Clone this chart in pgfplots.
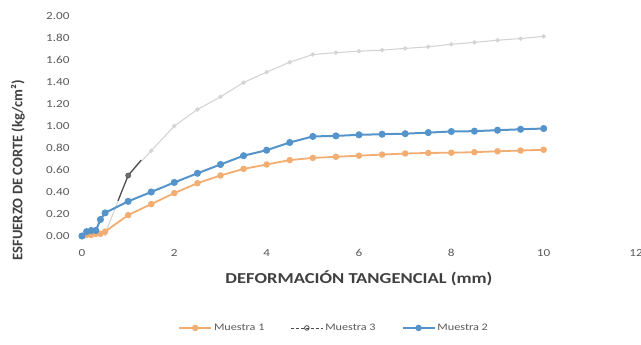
\documentclass[border=0pt]{standalone}
\usepackage{pgfplots}
\pgfplotsset{compat=1.18}
\usepackage{fontspec}
\setmainfont{Carlito}[FakeStretch=1.22]
\newfontfamily\ylabfont{Carlito}
\definecolor{orangeS}{HTML}{F2AE72}
\definecolor{blueS}{HTML}{5494CB}
\definecolor{grayS}{HTML}{D4D4D4}
\definecolor{darkS}{HTML}{4A4A4A}
\definecolor{tickgray}{HTML}{595959}
\definecolor{titlegray}{HTML}{404040}
\begin{document}
\begin{tikzpicture}
\useasboundingbox (-82pt,-109pt) rectangle (559pt,236pt);
\begin{axis}[
  at={(0,0)}, anchor=south west,
  scale only axis, width=554pt, height=220pt,
  xmin=0, xmax=12, ymin=0, ymax=2,
  xtick={0,2,4,6,8,10,12},
  ytick={0,0.2,0.4,0.6,0.8,1.0,1.2,1.4,1.6,1.8,2.0},
  axis line style={draw=none},
  major tick length=0pt,
  /pgf/number format/assume math mode=true,
  yticklabel style={/pgf/number format/fixed, /pgf/number format/fixed zerofill, /pgf/number format/precision=2, xshift=-9pt},
  ticklabel style={font=\fontsize{10.8}{13}\selectfont, text=tickgray},
  xticklabel style={yshift=-10pt},
  xlabel={DEFORMACIÓN TANGENCIAL (mm)},
  ylabel={ESFUERZO DE CORTE (kg/cm²)},
  xlabel style={font=\bfseries\fontsize{15.2}{17}\selectfont, text=titlegray, at={(axis description cs:0.5,-0.191)}, anchor=center},
  ylabel style={font=\ylabfont\bfseries\fontsize{14.6}{16}\selectfont, text=titlegray, at={(axis description cs:-0.1155,0.30)}, anchor=center},
  clip=false,
  legend columns=3,
  legend style={at={(axis description cs:0.455,-0.418)}, anchor=center, draw=none,
    font=\fontsize{10}{12}\selectfont, text=tickgray,
    /tikz/every odd column/.append style={column sep=0pt},
    /tikz/every even column/.append style={column sep=24pt}},
  legend image code/.code={\draw[#1, mark repeat=2, mark phase=2] plot coordinates {(0pt,0pt) (16pt,0pt) (32pt,0pt)};},
]
\addlegendimage{orangeS, line width=1.8pt, mark=*, mark size=2.3pt, mark options={fill=orangeS, draw=orangeS}}
\addlegendentry{Muestra 1}
\addlegendimage{darkS, line width=0.8pt, densely dashed, mark=o, mark size=2.3pt, mark options={solid, draw=darkS, fill=white}}
\addlegendentry{Muestra 3}
\addlegendimage{blueS, line width=1.8pt, mark=*, mark size=2.3pt, mark options={fill=blueS, draw=blueS}}
\addlegendentry{Muestra 2}

% Muestra 3
\addplot[forget plot, grayS, line width=1.1pt, mark=*, mark size=1.6pt, mark options={fill=grayS, draw=grayS}] coordinates {
(0,0) (0.1,0.01) (0.2,0.01) (0.3,0.01) (0.4,0.02) (0.5,0.02)
(1.0,0.55) (1.5,0.775) (2.0,1.00) (2.5,1.15) (3.0,1.265) (3.5,1.395)
(4.0,1.49) (4.5,1.58) (5.0,1.65) (5.5,1.667) (6.0,1.68) (6.5,1.69)
(7.0,1.705) (7.5,1.72) (8.0,1.743) (8.5,1.76) (9.0,1.78) (9.5,1.795) (10.0,1.815)
};
\addplot[forget plot, darkS, line width=1.2pt, mark=none] coordinates {
(0.78,0.32) (1.0,0.55) (1.28,0.69)
};
\addplot[forget plot, only marks, mark=*, mark size=2.6pt, mark options={fill=darkS!80, draw=darkS}] coordinates {(1.0,0.55)};

% Muestra 1
\addplot[forget plot, orangeS, line width=1.8pt, mark=*, mark size=2.3pt, mark options={fill=orangeS, draw=orangeS}] coordinates {
(0,0) (0.1,0.01) (0.2,0.01) (0.3,0.02) (0.4,0.02) (0.5,0.04)
(1.0,0.19) (1.5,0.29) (2.0,0.39) (2.5,0.48) (3.0,0.55) (3.5,0.61)
(4.0,0.65) (4.5,0.69) (5.0,0.71) (5.5,0.72) (6.0,0.73) (6.5,0.74)
(7.0,0.75) (7.5,0.755) (8.0,0.757) (8.5,0.762) (9.0,0.77) (9.5,0.777) (10.0,0.784)
};

% Muestra 2
\addplot[forget plot, blueS, line width=2pt, mark=*, mark size=2.5pt, mark options={fill=blueS, draw=blueS}] coordinates {
(0,0) (0.1,0.04) (0.2,0.05) (0.3,0.05) (0.4,0.15) (0.5,0.21)
(1.0,0.315) (1.5,0.40) (2.0,0.487) (2.5,0.57) (3.0,0.65) (3.5,0.73)
(4.0,0.78) (4.5,0.85) (5.0,0.905) (5.5,0.91) (6.0,0.92) (6.5,0.925)
(7.0,0.93) (7.5,0.94) (8.0,0.95) (8.5,0.953) (9.0,0.962) (9.5,0.97) (10.0,0.977)
};
\end{axis}
\end{tikzpicture}
\end{document}
